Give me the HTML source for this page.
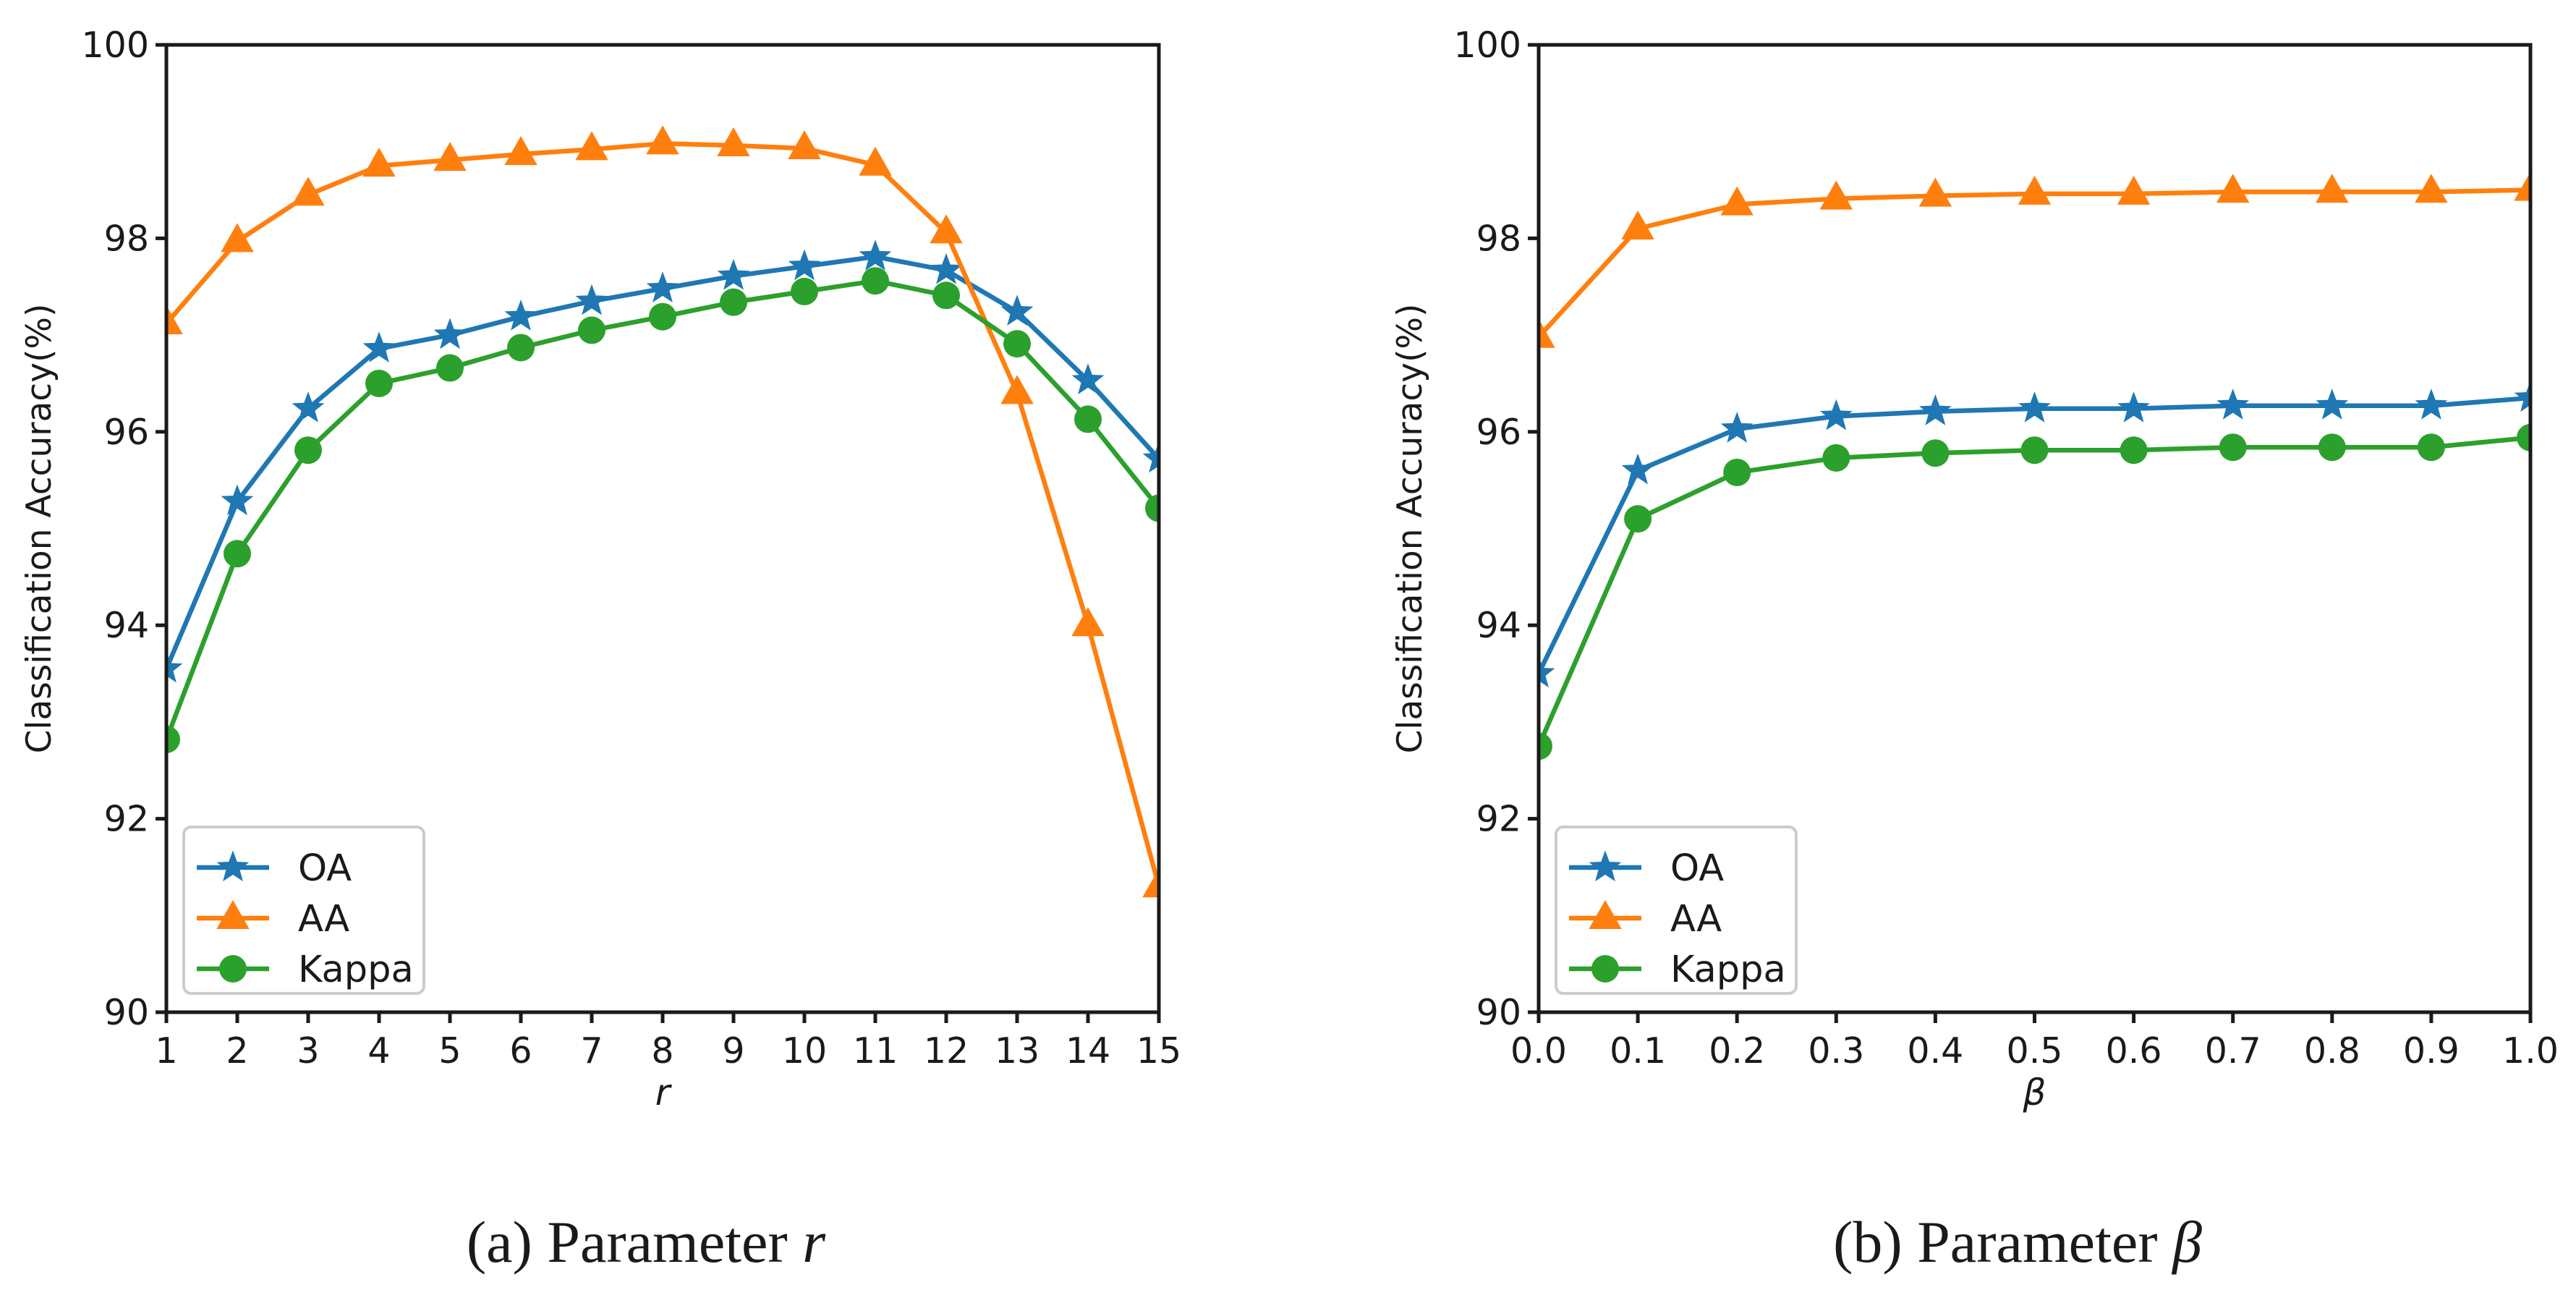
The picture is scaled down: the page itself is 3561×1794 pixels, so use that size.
<!DOCTYPE html>
<html><head><meta charset="utf-8"><style>
html,body{margin:0;padding:0;background:#fff;}
svg{display:block;}
text{font-family:"DejaVu Sans","Liberation Sans",sans-serif;fill:#1a1a1a;}
</style></head><body>
<svg id="fig" width="3561" height="1794" viewBox="0 0 3561 1794" xmlns="http://www.w3.org/2000/svg"></svg>
<script>
const rCats=[1,2,3,4,5,6,7,8,9,10,11,12,13,14,15];
const rOA=[93.55,95.28,96.24,96.86,97.0,97.19,97.35,97.48,97.61,97.71,97.81,97.67,97.24,96.53,95.72];
const rAA=[97.12,97.97,98.45,98.75,98.81,98.87,98.92,98.98,98.96,98.93,98.76,98.06,96.4,94.0,91.3];
const rKappa=[92.82,94.74,95.81,96.5,96.66,96.87,97.05,97.19,97.34,97.45,97.56,97.41,96.91,96.13,95.21];
const bCats=[0,0.1,0.2,0.3,0.4,0.5,0.6,0.7,0.8,0.9,1.0];
const bOA=[93.5,95.6,96.03,96.16,96.21,96.24,96.24,96.27,96.27,96.27,96.35];
const bAA=[96.98,98.1,98.35,98.41,98.44,98.46,98.46,98.48,98.48,98.48,98.5];
const bKappa=[92.75,95.1,95.58,95.73,95.78,95.81,95.81,95.84,95.84,95.84,95.94];
const yTicks=[90,92,94,96,98,100];
const rTickLabels=["1","2","3","4","5","6","7","8","9","10","11","12","13","14","15"];
const bTickLabels=["0.0","0.1","0.2","0.3","0.4","0.5","0.6","0.7","0.8","0.9","1.0"];

const NS="http://www.w3.org/2000/svg";
const svg=document.getElementById('fig');
function mk(tag,attrs,parent){const e=document.createElementNS(NS,tag);for(const k in attrs)e.setAttribute(k,attrs[k]);(parent||svg).appendChild(e);return e;}
const C={OA:"#1f77b4",AA:"#ff7f0e",Kappa:"#2ca02c"};
function star(cx,cy,R){let p=[];for(let i=0;i<10;i++){const a=-Math.PI/2+i*Math.PI/5;const rr=i%2?R*0.42:R;p.push((cx+rr*Math.cos(a)).toFixed(1)+","+(cy+rr*Math.sin(a)).toFixed(1));}return p.join(" ");}
function marker(g,type,x,y,col){
  let m;
  if(type==="OA"){m=mk('polygon',{points:star(x,y,20),fill:col,stroke:col,'stroke-width':2.5},g);}
  else if(type==="AA"){m=mk('polygon',{points:`${x},${y-23} ${x+21},${y+14} ${x-21},${y+14}`,fill:col,stroke:col,'stroke-width':2},g);}
  else {m=mk('circle',{cx:x,cy:y,r:19,fill:col},g);}
  return m;
}
function panel(id,L,R,T,B,cats,xmin,xmax,ticks,tickLabels,series,xlab,ylabX,caption,capX,legX){
  const sx=v=>L+(v-xmin)/(xmax-xmin)*(R-L);
  const sy=v=>B-(v-90)/10*(B-T);
  const g=mk('g',{});  
  const clip=mk('clipPath',{id:'clip-'+id},g); mk('rect',{x:L,y:T,width:R-L,height:B-T},clip);
  for(const s of series){
    const sg=mk('g',{'clip-path':`url(#clip-${id})`},g);
    
    
    const pts=cats.map((c,i)=>sx(c).toFixed(1)+","+sy(s.vals[i]).toFixed(1)).join(" ");
    const pl=mk('polyline',{points:pts,fill:'none',stroke:C[s.name],'stroke-width':6.5,'stroke-linejoin':'round'},sg);
    
    
    cats.forEach((c,i)=>{const m=marker(sg,s.name,sx(c),sy(s.vals[i]),C[s.name]);
      
      });
  }
  const fr=mk('rect',{x:L,y:T,width:R-L,height:B-T,fill:'none',stroke:'#1a1a1a','stroke-width':5},g);
   
  yTicks.forEach(v=>{const y=sy(v);mk('line',{x1:L-15,x2:L,y1:y,y2:y,stroke:'#1a1a1a','stroke-width':5},g);
    const t=mk('text',{x:L-24,y:y+17,'text-anchor':'end','font-size':49},g);t.textContent=v;
    });
  ticks.forEach((v,i)=>{const x=sx(v);mk('line',{x1:x,x2:x,y1:B,y2:B+15,stroke:'#1a1a1a','stroke-width':5},g);
    const t=mk('text',{x:x,y:B+70,'text-anchor':'middle','font-size':49},g);t.textContent=tickLabels[i];
    });
  const xl=mk('text',{x:(L+R)/2,y:B+128,'text-anchor':'middle','font-size':50,'font-style':'italic'},g);xl.textContent=xlab;
  
  const yl=mk('text',{x:0,y:0,'text-anchor':'middle','font-size':47,transform:`translate(${ylabX},${(T+B)/2}) rotate(-90)`},g);yl.textContent="Classification Accuracy(%)";
  
  const lg=mk('g',{},g);
  mk('rect',{x:legX,y:1143,width:332,height:230,rx:10,fill:'#fff',stroke:'#cccccc','stroke-width':4},lg);
  series.forEach((s,i)=>{const y=1199+i*70;
    const e=mk('g',{},lg);
    mk('line',{x1:legX+18,x2:legX+118,y1:y,y2:y,stroke:C[s.name],'stroke-width':6.5},e);
    marker(e,s.name,legX+68,y,C[s.name]);
    const t=mk('text',{x:legX+158,y:y+18,'font-size':51},e);t.textContent=s.name;});
  const cp=mk('text',{x:capX,y:1744,'text-anchor':'middle','font-size':82,style:'font-family:"Liberation Serif",serif'},g);
  cp.innerHTML=caption;
  
}
panel('param-r',230,1602,62,1399,rCats,1,15,rCats,rTickLabels,
  [{name:'OA',vals:rOA},{name:'AA',vals:rAA},{name:'Kappa',vals:rKappa}],'r',70,
  '(a) Parameter <tspan font-style="italic">r</tspan>',893,254);
panel('param-beta',2127,3498,62,1399,bCats,0,1,bCats,bTickLabels,
  [{name:'OA',vals:bOA},{name:'AA',vals:bAA},{name:'Kappa',vals:bKappa}],'β',1965,
  '(b) Parameter <tspan font-style="italic">β</tspan>',2789,2151);
</script>
</body></html>
